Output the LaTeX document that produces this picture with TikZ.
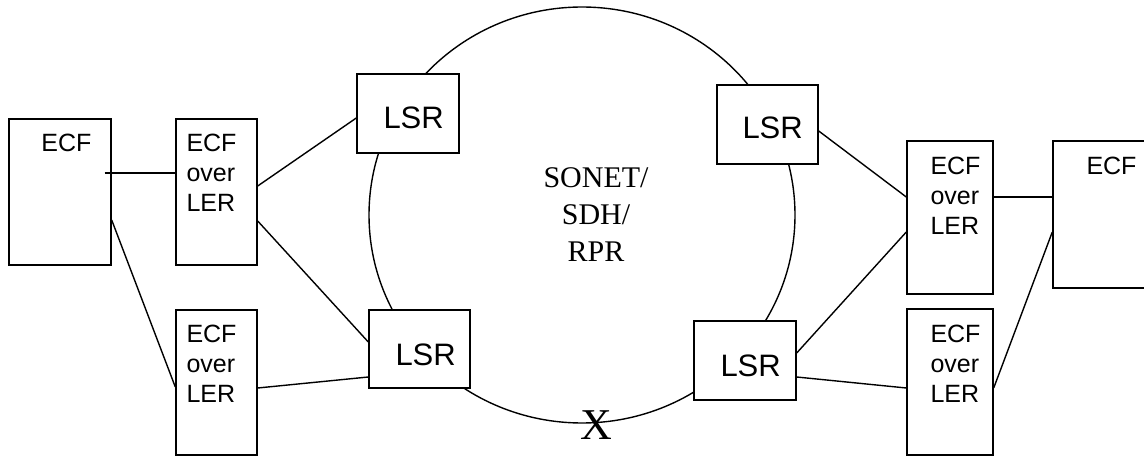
\documentclass[tikz,border=0pt]{standalone}
\usepackage{fontspec}
\setmainfont{Liberation Serif}
\newfontfamily\arial{Liberation Sans}
\usepackage{tikz}
\usetikzlibrary{shapes.geometric}
\tikzstyle{box} = [draw, fill=white, rectangle, inner sep=0pt, line width=1.4pt]
\tikzstyle{lsr} = [box, minimum width=101pt, minimum height=79pt]
\tikzstyle{ler} = [box, minimum height=146pt]
\tikzstyle{boxtext} = [font=\arial\fontsize{25}{30}\selectfont, inner sep=0pt, anchor=base west]
\tikzstyle{lsrtext} = [font=\arial\fontsize{31}{37}\selectfont, inner sep=0pt, anchor=base west]
\tikzstyle{ringtext} = [font=\fontsize{30}{37}\selectfont, inner sep=0pt, anchor=base]
\tikzstyle{link} = [line width=1.4pt]

\begin{document}
\begin{tikzpicture}[x=1pt, y=-1pt]
    \useasboundingbox (0,0) rectangle (1144,457);
    \node[draw, ellipse, line width=1.4pt, minimum width=426pt, minimum height=416pt, inner sep=0pt] (ring) at (582,215) {};
    \node[ringtext] (ring-1) at (596,188) {SONET/};
    \node[ringtext] (ring-2) at ([yshift=-37pt]ring-1.base) {SDH/};
    \node[ringtext] (ring-3) at ([yshift=-37pt]ring-2.base) {RPR};
    \node[font=\fontsize{44}{44}\selectfont, inner sep=0pt, anchor=base] (cut) at (596,439) {X};

    \node[box, minimum width=102pt, minimum height=146pt] (ecfL) at (60,192) {};
    \node[ler, minimum width=81pt] (lerTL) at (216.5,192) {};
    \node[ler, minimum width=81pt, minimum height=145pt] (lerBL) at (216.5,382.5) {};
    \node[lsr, minimum width=102pt] (lsrTL) at (408,113.5) {};
    \node[lsr, minimum height=78pt] (lsrBL) at (419.5,349) {};
    \node[lsr] (lsrTR) at (767.5,124.5) {};
    \node[lsr, minimum width=102pt] (lsrBR) at (745,360.5) {};
    \node[ler, minimum width=86pt, minimum height=153pt] (lerTR) at (950,217.5) {};
    \node[ler, minimum width=86pt] (lerBR) at (950,382) {};
    \node[box, minimum width=110pt, minimum height=147pt] (ecfR) at (1108,214.5) {};

    \node[boxtext] (ecfL-t) at ([shift={(33pt,-33pt)}]ecfL.north west) {ECF};
    \node[boxtext] (ecfR-t) at ([shift={(34pt,-34pt)}]ecfR.north west) {ECF};
    \node[boxtext] (lerTL-1) at ([shift={(11pt,-33pt)}]lerTL.north west) {ECF};
    \node[boxtext] (lerTL-2) at ([yshift=-30pt]lerTL-1.base west) {over};
    \node[boxtext] (lerTL-3) at ([yshift=-30pt]lerTL-2.base west) {LER};
    \node[boxtext] (lerBL-1) at ([shift={(11pt,-33pt)}]lerBL.north west) {ECF};
    \node[boxtext] (lerBL-2) at ([yshift=-30pt]lerBL-1.base west) {over};
    \node[boxtext] (lerBL-3) at ([yshift=-30pt]lerBL-2.base west) {LER};
    \node[boxtext] (lerTR-1) at ([shift={(24pt,-34pt)}]lerTR.north west) {ECF};
    \node[boxtext] (lerTR-2) at ([yshift=-30pt]lerTR-1.base west) {over};
    \node[boxtext] (lerTR-3) at ([yshift=-30pt]lerTR-2.base west) {LER};
    \node[boxtext] (lerBR-1) at ([shift={(24pt,-34pt)}]lerBR.north west) {ECF};
    \node[boxtext] (lerBR-2) at ([yshift=-30pt]lerBR-1.base west) {over};
    \node[boxtext] (lerBR-3) at ([yshift=-30pt]lerBR-2.base west) {LER};
    \node[lsrtext] (lsrTL-t) at ([shift={(27pt,-15.5pt)}]lsrTL.west) {LSR};
    \node[lsrtext] (lsrTR-t) at ([shift={(26pt,-14.5pt)}]lsrTR.west) {LSR};
    \node[lsrtext] (lsrBL-t) at ([shift={(27pt,-16pt)}]lsrBL.west) {LSR};
    \node[lsrtext] (lsrBR-t) at ([shift={(27pt,-15.5pt)}]lsrBR.west) {LSR};

    \draw[link] ([shift={(-7pt,19pt)}]ecfL.east) -- ([yshift=19pt]lerTL.west);
    \draw[link] ([yshift=-28pt]ecfL.east) -- ([yshift=-4.5pt]lerBL.west);
    \draw[link] ([yshift=6pt]lerTL.east) -- ([yshift=-4.5pt]lsrTL.west);
    \draw[link] ([yshift=-29pt]lerTL.east) -- ([yshift=7pt]lsrBL.west);
    \draw[link] ([yshift=-5.5pt]lerBL.east) -- ([yshift=-28pt]lsrBL.west);
    \draw[link] ([yshift=-6.5pt]lsrTR.east) -- ([yshift=20.5pt]lerTR.west);
    \draw[link] ([yshift=7.5pt]lsrBR.east) -- ([yshift=-14.5pt]lerTR.west);
    \draw[link] ([yshift=-16.5pt]lsrBR.east) -- ([yshift=-6pt]lerBR.west);
    \draw[link] ([yshift=20.5pt]lerTR.east) -- ([yshift=17.5pt]ecfR.west);
    \draw[link] ([yshift=-6pt]lerBR.east) -- ([yshift=-17.5pt]ecfR.west);
\end{tikzpicture}
\end{document}
